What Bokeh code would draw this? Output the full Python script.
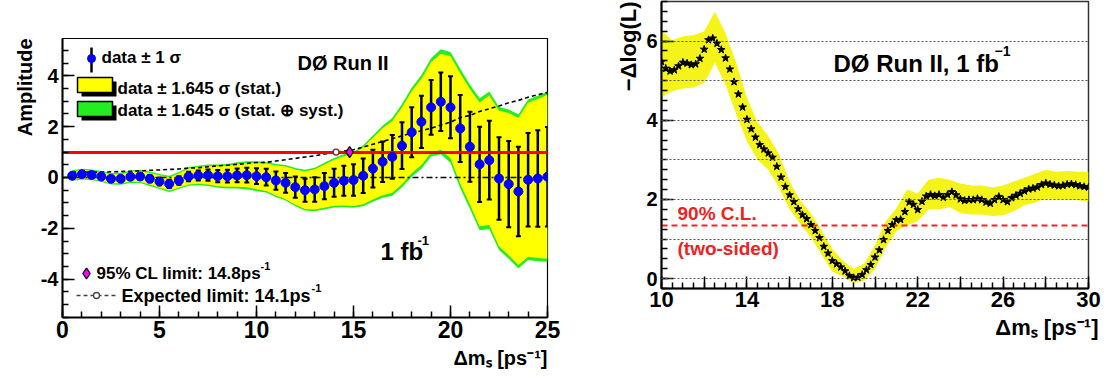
import math
from bokeh.plotting import figure
from bokeh.layouts import row, column
from bokeh.models import (Range1d, Label, BoxAnnotation, FixedTicker, Title,
                          SingleIntervalTicker, Spacer)
from bokeh.embed import file_html
from bokeh.resources import INLINE

# ---------------- Left panel data: amplitude scan ----------------
dms = [0.5, 1.0, 1.5, 2.0, 2.5, 3.0, 3.5, 4.0, 4.5, 5.0,
       5.5, 6.0, 6.5, 7.0, 7.5, 8.0, 8.5, 9.0, 9.5, 10.0,
       10.5, 11.0, 11.5, 12.0, 12.5, 13.0, 13.5, 14.0, 14.5, 15.0,
       15.5, 16.0, 16.5, 17.0, 17.5, 18.0, 18.5, 19.0, 19.5, 20.0,
       20.5, 21.0, 21.5, 22.0, 22.5, 23.0, 23.5, 24.0, 24.5, 25.0]
amp = [0.07, 0.13, 0.10, 0.04, -0.05, -0.05, 0.03, 0.04, -0.05, -0.16,
       -0.25, -0.12, 0.04, 0.08, 0.09, 0.05, 0.05, 0.08, 0.09, 0.05,
       0.01, -0.12, -0.21, -0.38, -0.50, -0.47, -0.34, -0.21, -0.13, -0.10,
       0.07, 0.35, 0.62, 0.81, 1.25, 1.78, 2.19, 2.76, 2.98, 2.76,
       1.93, 1.21, 0.52, 0.68, -0.04, -0.26, -0.55, -0.09, -0.04, 0.03]
sig_stat = [0.10, 0.10, 0.10, 0.10, 0.11, 0.11, 0.12, 0.13, 0.14, 0.15,
            0.16, 0.17, 0.19, 0.20, 0.22, 0.24, 0.25, 0.27, 0.29, 0.31,
            0.33, 0.36, 0.39, 0.42, 0.45, 0.48, 0.52, 0.55, 0.59, 0.62,
            0.68, 0.74, 0.80, 0.86, 0.92, 0.98, 1.03, 1.08, 1.15, 1.22,
            1.32, 1.38, 1.48, 1.55, 1.62, 1.70, 1.76, 1.84, 1.90, 1.96]
sig_syst = [0.08, 0.08, 0.08, 0.08, 0.08, 0.09, 0.09, 0.09, 0.10, 0.10,
            0.11, 0.11, 0.12, 0.12, 0.13, 0.14, 0.15, 0.16, 0.17, 0.18,
            0.15, 0.16, 0.17, 0.18, 0.19, 0.20, 0.21, 0.22, 0.23, 0.24,
            0.26, 0.29, 0.32, 0.35, 0.38, 0.41, 0.44, 0.47, 0.50, 0.52,
            0.55, 0.55, 0.55, 0.55, 0.55, 0.55, 0.55, 0.55, 0.55, 0.55]
limit_95 = 14.8
limit_exp = 14.1
amp_one = 1.0
k_cl = 1.645

# ---------------- Right panel data: likelihood scan ----------------
scan_x = [10.0, 10.2, 10.4, 10.6, 10.8, 11.0, 11.2, 11.4, 11.6, 11.8,
          12.0, 12.2, 12.4, 12.6, 12.8, 13.0, 13.2, 13.4, 13.6, 13.8,
          14.0, 14.2, 14.4, 14.6, 14.8, 15.0, 15.2, 15.4, 15.6, 15.8,
          16.0, 16.2, 16.4, 16.6, 16.8, 17.0, 17.2, 17.4, 17.6, 17.8,
          18.0, 18.2, 18.4, 18.6, 18.8, 19.0, 19.2, 19.4, 19.6, 19.8,
          20.0, 20.2, 20.4, 20.6, 20.8, 21.0, 21.2, 21.4, 21.6, 21.8,
          22.0, 22.2, 22.4, 22.6, 22.8, 23.0, 23.2, 23.4, 23.6, 23.8,
          24.0, 24.2, 24.4, 24.6, 24.8, 25.0, 25.2, 25.4, 25.6, 25.8,
          26.0, 26.2, 26.4, 26.6, 26.8, 27.0, 27.2, 27.4, 27.6, 27.8,
          28.0, 28.2, 28.4, 28.6, 28.8, 29.0, 29.2, 29.4, 29.6, 29.8, 30.0]
dlogl = [5.48, 5.31, 5.24, 5.27, 5.37, 5.46, 5.44, 5.40, 5.42, 5.56,
         5.79, 6.03, 6.07, 5.94, 5.78, 5.57, 5.29, 4.97, 4.66, 4.33,
         4.02, 3.78, 3.57, 3.38, 3.27, 3.17, 3.06, 2.83, 2.56, 2.32,
         2.11, 1.94, 1.76, 1.61, 1.51, 1.36, 1.21, 1.03, 0.81, 0.64,
         0.45, 0.37, 0.29, 0.19, 0.07, 0.02, 0.03, 0.10, 0.22, 0.35,
         0.54, 0.72, 0.98, 1.21, 1.36, 1.48, 1.49, 1.69, 1.93, 1.87,
         1.74, 1.95, 2.08, 2.12, 2.09, 2.12, 2.05, 2.12, 2.19, 2.11,
         2.01, 1.97, 1.99, 1.99, 2.02, 1.99, 1.93, 1.90, 1.99, 2.07,
         1.99, 1.94, 2.04, 2.10, 2.15, 2.21, 2.26, 2.28, 2.31, 2.37,
         2.41, 2.38, 2.36, 2.34, 2.35, 2.38, 2.39, 2.37, 2.34, 2.32, 2.31]
band_x = [10.0, 10.5, 11.0, 11.5, 12.0, 12.5, 13.0, 13.5, 14.0, 14.5,
          15.0, 15.5, 16.0, 16.5, 17.0, 17.5, 18.0, 18.5, 19.0, 19.5,
          20.0, 20.5, 21.0, 21.5, 22.0, 22.5, 23.0, 23.5, 24.0, 24.5,
          25.0, 25.5, 26.0, 26.5, 27.0, 27.5, 28.0, 28.5, 29.0, 29.5, 30.0]
band_hi = [6.26, 6.02, 6.12, 6.15, 6.25, 6.75, 6.20, 5.45, 4.57, 3.95,
           3.60, 3.15, 2.45, 1.98, 1.65, 1.22, 0.75, 0.45, 0.25, 0.38,
           0.85, 1.45, 1.78, 2.25, 2.15, 2.50, 2.55, 2.50, 2.40, 2.35,
           2.35, 2.30, 2.35, 2.45, 2.55, 2.65, 2.75, 2.70, 2.72, 2.70, 2.70]
band_lo = [4.58, 4.74, 4.80, 4.83, 4.95, 5.45, 4.90, 4.15, 3.47, 3.00,
           2.75, 2.30, 1.75, 1.38, 1.05, 0.60, 0.17, 0.05, -0.12, -0.05,
           0.25, 0.78, 1.20, 1.35, 1.45, 1.75, 1.75, 1.80, 1.65, 1.62,
           1.62, 1.58, 1.60, 1.70, 1.85, 1.92, 2.02, 2.00, 2.00, 1.98, 1.95]
cl90 = 1.35

FONT = "Liberation Sans"

# derived quantities (definitions from the legend)
sig_tot = [math.hypot(a, b) for a, b in zip(sig_stat, sig_syst)]
yel_lo = [a - k_cl * s for a, s in zip(amp, sig_stat)]
yel_hi = [a + k_cl * s for a, s in zip(amp, sig_stat)]
grn_lo = [a - k_cl * s for a, s in zip(amp, sig_tot)]
grn_hi = [a + k_cl * s for a, s in zip(amp, sig_tot)]
sens = [k_cl * s for s in sig_tot]
err_lo = [a - s for a, s in zip(amp, sig_stat)]
err_hi = [a + s for a, s in zip(amp, sig_stat)]


def lab(p, x, y, text, size, color="black", style="bold", align="left",
        baseline="middle", angle=0.0):
    p.add_layout(Label(x=x, y=y, text=text, text_font=FONT,
                       text_font_size=f"{size}px", text_font_style=style,
                       text_color=color, text_align=align,
                       text_baseline=baseline, angle=angle))


def style_axes(p, xsize, ysize):
    for ax in (p.xaxis[0], p.yaxis[0]):
        ax.axis_line_width = 2
        ax.axis_line_color = "black"
        ax.major_tick_in = 12
        ax.major_tick_out = 0
        ax.minor_tick_in = 6
        ax.minor_tick_out = 0
        ax.major_tick_line_width = 1.5
        ax.minor_tick_line_width = 1.5
        ax.major_label_text_font = FONT
        ax.major_label_text_font_style = "bold"
        ax.major_label_text_color = "black"
    p.xaxis.major_label_text_font_size = f"{xsize}px"
    p.yaxis.major_label_text_font_size = f"{ysize}px"
    p.xaxis.major_label_standoff = 3
    p.yaxis.major_label_standoff = 4


def axis_title(p, text, side, size, offset=0, standoff=6):
    p.add_layout(Title(text=text, align="right", text_font=FONT,
                       text_font_size=f"{size}px", text_font_style="bold",
                       text_color="black", offset=offset, standoff=standoff), side)


# ================= Left figure (page: frame 62..547 x 38..317) =================
LX0, LX1, LY0, LY1 = 0.0, 25.0, -5.51, 5.47
p1 = figure(width=598, height=343, output_backend="svg", toolbar_location=None,
            x_range=Range1d(LX0, LX1), y_range=Range1d(LY0, LY1),
            min_border_left=62, min_border_right=51, min_border_top=1,
            min_border_bottom=63)
p1.xgrid.visible = False
p1.ygrid.visible = False
p1.outline_line_color = "black"
p1.outline_line_width = 1.2
p1.xaxis.ticker = SingleIntervalTicker(interval=5, num_minor_ticks=5)
p1.yaxis.ticker = SingleIntervalTicker(interval=2, num_minor_ticks=4)
p1.yaxis.major_label_overrides = {-4: "-4", -2: "-2"}
style_axes(p1, 23, 20)


def l_x(px):
    return LX0 + (px - 62) * (LX1 - LX0) / 485.0


def l_y(py):
    return LY1 - (py - 38) * (LY1 - LY0) / 279.0


p1.varea(x=dms, y1=grn_lo, y2=grn_hi, fill_color="#22ee22")
p1.varea(x=dms, y1=yel_lo, y2=yel_hi, fill_color="#ffff00")
p1.hspan(y=[0.0], line_color="black", line_width=1.3, line_dash="6 3 2 3")
p1.line(x=dms, y=sens, line_color="black", line_width=1.6, line_dash="4 3")
p1.segment(x0=dms, y0=err_lo, x1=dms, y1=err_hi, line_color="black", line_width=2.5)
p1.scatter(x=dms, y=err_lo, marker="dash", size=5, line_color="black", line_width=2)
p1.scatter(x=dms, y=err_hi, marker="dash", size=5, line_color="black", line_width=2)
p1.hspan(y=[amp_one], line_color="#ff0000", line_width=3)
p1.scatter(x=dms, y=amp, marker="circle", size=9, fill_color="#0000ff", line_color="#0000ff")
p1.scatter(x=[limit_exp], y=[amp_one], marker="circle", size=6, fill_color="white",
           line_color="#802020", line_width=1.3)
p1.scatter(x=[limit_95], y=[amp_one], marker="diamond", size=11, fill_color="#ff00ff",
           line_color="black", line_width=1.3)

# legend (top-left)
p1.segment(x0=[l_x(91)], y0=[l_y(47)], x1=[l_x(91)], y1=[l_y(72)], line_color="black", line_width=2.5)
p1.scatter(x=[l_x(91)], y=[l_y(58)], marker="circle", size=8, fill_color="#0000ff", line_color="#0000ff")
lab(p1, l_x(101), l_y(57), "data \u00b1 1 \u03c3", 17)
for top, col in ((77, "#ffff00"), (101, "#22ee22")):
    p1.add_layout(BoxAnnotation(left=l_x(81), right=l_x(116), top=l_y(top + 4), bottom=l_y(top + 19),
                                fill_color="black", fill_alpha=1.0, line_alpha=0))
    p1.add_layout(BoxAnnotation(left=l_x(77), right=l_x(112), top=l_y(top), bottom=l_y(top + 15),
                                fill_color=col, fill_alpha=1.0, line_color="black",
                                line_width=1.5, line_alpha=1.0))
lab(p1, l_x(117), l_y(88), "data \u00b1 1.645 \u03c3 (stat.)", 17)
lab(p1, l_x(117), l_y(110), "data \u00b1 1.645 \u03c3 (stat. \u2295 syst.)", 17)
lab(p1, l_x(297), l_y(62), "D\u00d8 Run II", 20)
lab(p1, l_x(380), l_y(251), "1 fb", 24)
lab(p1, l_x(417), l_y(240), "-1", 13)

# legend (bottom-left)
p1.scatter(x=[l_x(86)], y=[l_y(273)], marker="diamond", size=11, fill_color="#ff00ff",
           line_color="black", line_width=1.3)
lab(p1, l_x(96), l_y(273), f"95% CL limit: {limit_95}ps", 17)
lab(p1, l_x(260), l_y(265), "-1", 11)
p1.line(x=[l_x(76), l_x(115)], y=[l_y(295), l_y(295)], line_color="#444444", line_width=1.5, line_dash="4 3")
p1.scatter(x=[l_x(96)], y=[l_y(295)], marker="circle", size=6, fill_color="white",
           line_color="#444444", line_width=1.3)
lab(p1, l_x(121), l_y(295), f"Expected limit: {limit_exp}ps", 18)
lab(p1, l_x(311), l_y(287), "-1", 11)

axis_title(p1, "Amplitude", "left", 20, standoff=4)
axis_title(p1, "\u0394m\u209b [ps\u207b\u00b9]", "below", 20, standoff=8)

# ================= Right figure (page: frame 661..1088 x 1..288) =================
RX0, RX1, RY0, RY1 = 10.0, 30.0, -0.25, 7.0
p2 = figure(width=504, height=351, output_backend="svg", toolbar_location=None,
            x_range=Range1d(RX0, RX1), y_range=Range1d(RY0, RY1),
            min_border_left=63, min_border_right=14, min_border_top=1,
            min_border_bottom=63)
p2.outline_line_color = "#333333"
p2.outline_line_width = 1.5
p2.xgrid.visible = False
p2.ygrid.ticker = FixedTicker(ticks=[0, 1, 2, 3, 4, 5, 6])
p2.ygrid.grid_line_color = "#555555"
p2.ygrid.grid_line_dash = "2 2"
p2.ygrid.grid_line_width = 1.2
p2.ygrid.level = "overlay"
p2.xaxis.ticker = SingleIntervalTicker(interval=2, num_minor_ticks=4)
p2.xaxis.major_label_overrides = {12: "", 16: "", 20: "", 24: "", 28: ""}
p2.yaxis.ticker = SingleIntervalTicker(interval=2, num_minor_ticks=8)
style_axes(p2, 22, 20)


def r_x(px):
    return RX0 + (px - 661) * (RX1 - RX0) / 427.0


def r_y(py):
    return RY1 - (py - 1) * (RY1 - RY0) / 287.0


p2.varea(x=band_x, y1=band_lo, y2=band_hi, fill_color="#f4f41a")
p2.hspan(y=[cl90], line_color="#ff2020", line_width=2, line_dash="6 4")
p2.scatter(x=scan_x, y=dlogl, marker="star", size=8, fill_color="black", line_color="black")

lab(p2, r_x(833), r_y(63), "D\u00d8 Run II, 1 fb", 24)
lab(p2, r_x(994), r_y(50), "\u22121", 14)
lab(p2, r_x(677), r_y(213), "90% C.L.", 19, color="#ee2222")
lab(p2, r_x(677), r_y(248), "(two-sided)", 19, color="#ee2222")

axis_title(p2, "\u2212\u0394log(L)", "left", 22, standoff=6)
axis_title(p2, "\u0394m\u209b [ps\u207b\u00b9]", "below", 22, offset=-10, standoff=6)

layout = row(column(Spacer(width=598, height=37), p1), p2)
open("out.html", "w").write(file_html(layout, INLINE))
